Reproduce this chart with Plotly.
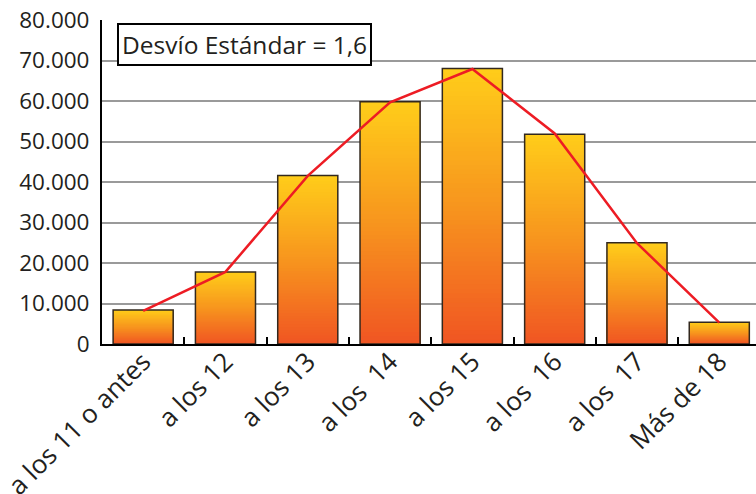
import plotly.graph_objects as go

categories = ["a los 11 o antes", "a los 12", "a los 13", "a los\u00a0 14", "a los 15",
              "a los\u00a0 16", "a los\u00a0 17", "Más de 18"]
bar_values = [8400, 17800, 41600, 59800, 68000, 51800, 25000, 5400]
line_values = [8200, 17800, 41500, 59700, 67900, 52000, 24900, 5300]
y_tickvals = [0, 10000, 20000, 30000, 40000, 50000, 60000, 70000, 80000]
y_ticktext = ["0", "10.000", "20.000", "30.000", "40.000", "50.000", "60.000", "70.000", "80.000"]
annotation_text = "Desvío Estándar = 1,6"

FONT = "Open Sans"
TXT = "#231F20"

stops = [(0.0, (240, 84, 35)), (0.5, (247, 148, 30)), (1.0, (255, 204, 26))]


def grad(f):
    for (f0, c0), (f1, c1) in zip(stops[:-1], stops[1:]):
        if f <= f1:
            t = (f - f0) / (f1 - f0)
            return "rgb(%d,%d,%d)" % tuple(round(a + (b - a) * t) for a, b in zip(c0, c1))
    return "rgb(%d,%d,%d)" % stops[-1][1]


fig = go.Figure()
N = 60
for i in range(N):
    frac = (N - i) / N
    fig.add_trace(go.Bar(
        x=categories, y=[v * frac for v in bar_values],
        marker=dict(color=grad(frac), line=dict(width=0)),
        hoverinfo="skip", showlegend=False))

fig.add_trace(go.Bar(
    x=categories, y=bar_values,
    marker=dict(color="rgba(0,0,0,0)", line=dict(color="rgb(50,40,30)", width=1.5)),
    showlegend=False))

fig.add_trace(go.Scatter(
    x=categories, y=line_values, mode="lines",
    line=dict(color="rgb(237,28,36)", width=2.5), showlegend=False))

fig.update_layout(
    width=756, height=494,
    margin=dict(l=102, r=0, t=20, b=150),
    paper_bgcolor="white", plot_bgcolor="white",
    barmode="overlay", bargap=0.27,
    font=dict(family=FONT, color=TXT, size=22),
    separators=",.",
    annotations=[dict(
        text=annotation_text, xref="paper", yref="paper",
        x=15 / 654, y=1 - 3 / 324, xanchor="left", yanchor="top",
        showarrow=False, bgcolor="white", bordercolor="black",
        borderwidth=2, borderpad=3, font=dict(size=24.5, color=TXT, family=FONT))],
)

fig.update_xaxes(
    type="category", range=[-0.5, 7.446], automargin=False,
    showline=True, linecolor="black", linewidth=2,
    showgrid=False, zeroline=False,
    ticks="inside", tickson="boundaries", ticklen=7, tickwidth=2, tickcolor="black",
    tickangle=-45, ticklabelstandoff=-10, tickfont=dict(size=26, color=TXT, family=FONT))

fig.update_yaxes(
    range=[0, 80000], tickvals=y_tickvals, ticktext=y_ticktext, automargin=False,
    showline=True, linecolor="black", linewidth=2,
    showgrid=True, gridcolor="#9a9a9a", gridwidth=1.5, zeroline=False,
    ticks="", ticklabelstandoff=6, tickfont=dict(size=22.5, color=TXT, family=FONT))

fig.write_html("out.html", config={"displayModeBar": False},
               post_script="document.body.style.margin='0';")
